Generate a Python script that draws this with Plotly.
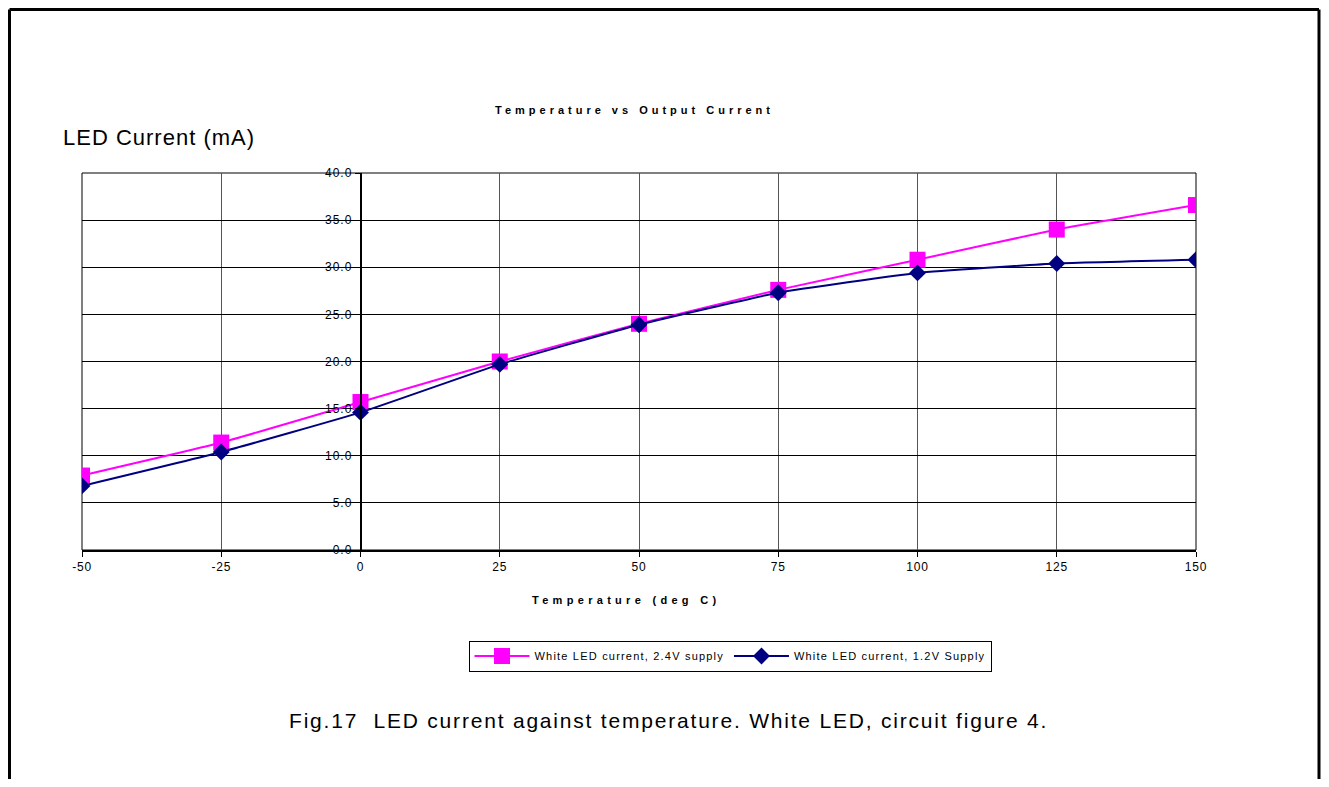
import plotly.graph_objects as go

temps = [-50, -25, 0, 25, 50, 75, 100, 125, 150]
current_24v = [7.9, 11.4, 15.7, 20.0, 24.0, 27.6, 30.8, 34.0, 36.6]
current_12v = [6.8, 10.4, 14.6, 19.7, 23.9, 27.3, 29.4, 30.4, 30.8]
y_ticks = [0, 5, 10, 15, 20, 25, 30, 35, 40]
x_ticks = [-50, -25, 0, 25, 50, 75, 100, 125, 150]

OFF = 8  # page body margin
W, H = 1329 - 2 * OFF, 787 - 2 * OFF
L, R, T, B = 82, 1196, 173, 550  # plot area in screen pixels
FONT = "Liberation Sans, Arial, sans-serif"


def px(x):
    return (x - L) / (R - L)


def py(y):
    return (B - y) / (B - T)


def sp(text, ls):
    return f'<span style="letter-spacing:{ls}px">{text}</span>'


fig = go.Figure()
fig.add_trace(go.Scatter(
    x=temps, y=current_24v, mode="lines+markers",
    name=sp("White LED current, 2.4V supply", 1.2),
    line=dict(color="#FF00FF", width=2, shape="spline", smoothing=0.4),
    marker=dict(symbol="square", size=16, color="#FF00FF"),
))
fig.add_trace(go.Scatter(
    x=temps, y=current_12v, mode="lines+markers",
    name=sp("White LED current, 1.2V Supply", 1.2),
    line=dict(color="#000080", width=2, shape="spline", smoothing=0.4),
    marker=dict(symbol="diamond", size=13, color="#000080"),
))

fig.update_layout(
    width=W, height=H,
    margin=dict(l=L - OFF, r=W - (R - OFF), t=T - OFF, b=H - (B - OFF), pad=0),
    paper_bgcolor="white", plot_bgcolor="white",
    font=dict(family=FONT, size=11, color="black"),
    showlegend=True,
    legend=dict(
        orientation="h", x=px(730), y=py(656), xanchor="center", yanchor="middle",
        bordercolor="black", borderwidth=1, bgcolor="white",
        font=dict(size=11, family=FONT), itemwidth=55, tracegroupgap=0,
    ),
    xaxis=dict(
        range=[-50, 150], tickvals=x_ticks, ticktext=[sp(str(v), 0.8) for v in x_ticks],
        showgrid=True, gridcolor="#555555", gridwidth=1,
        zeroline=False, showline=True, linecolor="black", linewidth=2,
        ticks="outside", ticklen=5, tickcolor="black",
        tickfont=dict(size=12, family=FONT),
    ),
    yaxis=dict(
        range=[0, 40], tickvals=y_ticks, ticktext=[sp(f"{v:.1f}", 1.0) for v in y_ticks],
        anchor="free", position=0.25,
        showgrid=True, gridcolor="black", gridwidth=1,
        zeroline=False, showline=True, linecolor="black", linewidth=1.5,
        ticks="outside", ticklen=5, tickcolor="black",
        tickfont=dict(size=12, family=FONT),
    ),
)

# plot area box
fig.add_shape(type="rect", xref="paper", yref="paper", x0=0, x1=1, y0=0, y1=1,
              line=dict(color="black", width=1), layer="below")
# outer frame (open at bottom), kept inside the visible figure area
fx0, fy0, fx1, fy1 = 9.5, 9.5, OFF + W - 2, OFF + H + 5
for (x0, y0, x1, y1) in [(fx0, fy0, fx0, fy1), (fx0, fy0, fx1, fy0), (fx1, fy0, fx1, fy1)]:
    fig.add_shape(type="line", xref="paper", yref="paper",
                  x0=px(x0), y0=py(y0), x1=px(x1), y1=py(y1),
                  line=dict(color="black", width=3))

fig.add_annotation(text="<b>" + sp("Temperature vs Output Current", 4) + "</b>",
                   xref="paper", yref="paper",
                   x=px(634), y=py(110), showarrow=False, xanchor="center", yanchor="middle",
                   font=dict(size=11, family=FONT))
fig.add_annotation(text="<b>" + sp("Temperature (deg C)", 4.3) + "</b>",
                   xref="paper", yref="paper",
                   x=px(626), y=py(600), showarrow=False, xanchor="center", yanchor="middle",
                   font=dict(size=11, family=FONT))
fig.add_annotation(text=sp("LED Current (mA)", 1), xref="paper", yref="paper",
                   x=px(61), y=py(137), showarrow=False, xanchor="left", yanchor="middle",
                   font=dict(size=22, family=FONT))
fig.add_annotation(text=sp("Fig.17  LED current against temperature. White LED, circuit figure 4.", 1.8),
                   xref="paper", yref="paper",
                   x=px(668), y=py(720), showarrow=False, xanchor="center", yanchor="middle",
                   font=dict(size=21, family=FONT))

fig.write_html("out.html")
